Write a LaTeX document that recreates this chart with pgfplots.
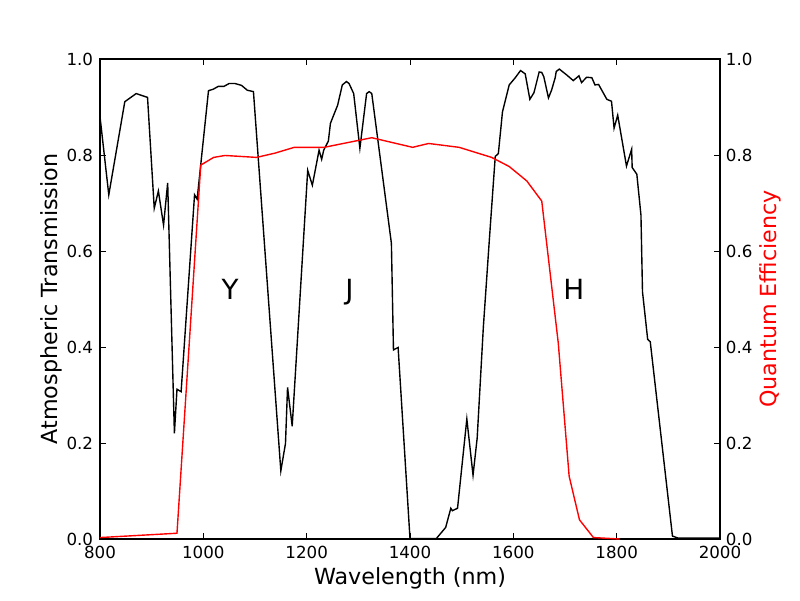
\documentclass[border=0pt]{standalone}
\usepackage{pgfplots}
\pgfplotsset{compat=1.18}
\usepackage{fontspec}
\setmainfont{DejaVu Sans}
\begin{document}
\begin{tikzpicture}
\path[use as bounding box] (-72pt,-43.92pt) rectangle (504pt,388.08pt);
\pgfplotsset{
  common/.style={
    at={(0,0)}, anchor=south west, scale only axis,
    width=446.4pt, height=345.6pt,
    xmin=800, xmax=2000, ymin=0, ymax=1,
    tick align=inside, major tick length=4pt,
    every tick/.style={black, line width=0.5pt},
    axis line style={line width=1pt},
    /pgf/number format/assume math mode=true,
    /pgf/number format/set thousands separator={},
    ytick={0,0.2,0.4,0.6,0.8,1.0},
    yticklabel={\pgfmathprintnumber[fixed,fixed zerofill,precision=1]{\tick}},
    tick label style={font=\fontsize{12}{14}\selectfont},
    label style={font=\fontsize{16}{19}\selectfont},
  }
}
\begin{axis}[common,
  xtick={800,1000,1200,1400,1600,1800,2000},
  xtick pos=both, ytick pos=left,
  xticklabel style={anchor=base, inner sep=0pt, yshift=-13.9pt},
  yticklabel style={anchor=east, inner sep=0pt, xshift=-4.8pt},
  xlabel={Wavelength (nm)},
  xlabel style={at={(axis description cs:0.5,-0.0958)}, anchor=base},
  ylabel={Atmospheric Transmission},
  ylabel style={at={(axis description cs:-0.0683,0.5)}, anchor=base},
]
\addplot[black, line width=1pt] coordinates {
(800,0.880)(817,0.717)(848,0.911)(870,0.928)(892,0.920)(905,0.689)(913,0.725)(923,0.654)(931,0.742)(944,0.220)(949,0.312)(957,0.307)(983,0.717)(988,0.708)(1010,0.934)(1019,0.937)(1029,0.943)(1040,0.943)(1050,0.949)(1061,0.949)(1074,0.945)(1085,0.935)(1097,0.932)(1150,0.142)(1159,0.199)(1163,0.316)(1172,0.235)(1202,0.768)(1211,0.737)(1224,0.810)(1229,0.791)(1233,0.810)(1242,0.829)(1246,0.866)(1260,0.904)(1269,0.946)(1277,0.953)(1282,0.949)(1291,0.928)(1303,0.814)(1316,0.928)(1321,0.932)(1326,0.928)(1364,0.616)(1368,0.394)(1377,0.399)(1400,0.001)(1451,0.001)(1469,0.024)(1479,0.064)(1482,0.059)(1492,0.064)(1510,0.250)(1522,0.133)(1530,0.210)(1542,0.442)(1554,0.630)(1565,0.797)(1571,0.803)(1579,0.890)(1592,0.946)(1603,0.960)(1614,0.976)(1623,0.969)(1632,0.916)(1640,0.930)(1650,0.973)(1655,0.972)(1659,0.963)(1668,0.919)(1674,0.935)(1681,0.961)(1683,0.974)(1689,0.979)(1703,0.967)(1716,0.955)(1727,0.965)(1732,0.951)(1742,0.962)(1752,0.961)(1758,0.946)(1765,0.947)(1781,0.916)(1790,0.912)(1795,0.856)(1802,0.883)(1819,0.777)(1829,0.812)(1830,0.774)(1839,0.760)(1847,0.675)(1850,0.515)(1860,0.416)(1865,0.411)(1908,0.006)(1919,0.002)(2000,0.002)
};
\node[anchor=base, font=\fontsize{20}{24}\selectfont] at (axis cs:1052,0.5) {Y};
\node[anchor=base, font=\fontsize{20}{24}\selectfont] at (axis cs:1283,0.5) {J};
\node[anchor=base, font=\fontsize{20}{24}\selectfont] at (axis cs:1717,0.5) {H};
\end{axis}
\begin{axis}[common,
  axis x line=none, axis y line*=right, ytick pos=right,
  tick align=inside,
  yticklabel style={anchor=west, inner sep=0pt, xshift=4.1pt},
  ylabel={Quantum Efficiency},
  ylabel style={at={(axis description cs:1.0918,0.5)}, anchor=base, red},
]
\addplot[red, line width=1pt] coordinates {
(800,0.003)(949,0.012)(995,0.779)(1020,0.795)(1042,0.799)(1103,0.795)(1139,0.804)(1176,0.816)(1234,0.816)(1326,0.836)(1405,0.816)(1436,0.824)(1495,0.816)(1558,0.795)(1592,0.776)(1626,0.746)(1655,0.704)(1687,0.408)(1708,0.131)(1728,0.040)(1755,0.003)(1806,0.0)
};
\end{axis}
\end{tikzpicture}
\end{document}
